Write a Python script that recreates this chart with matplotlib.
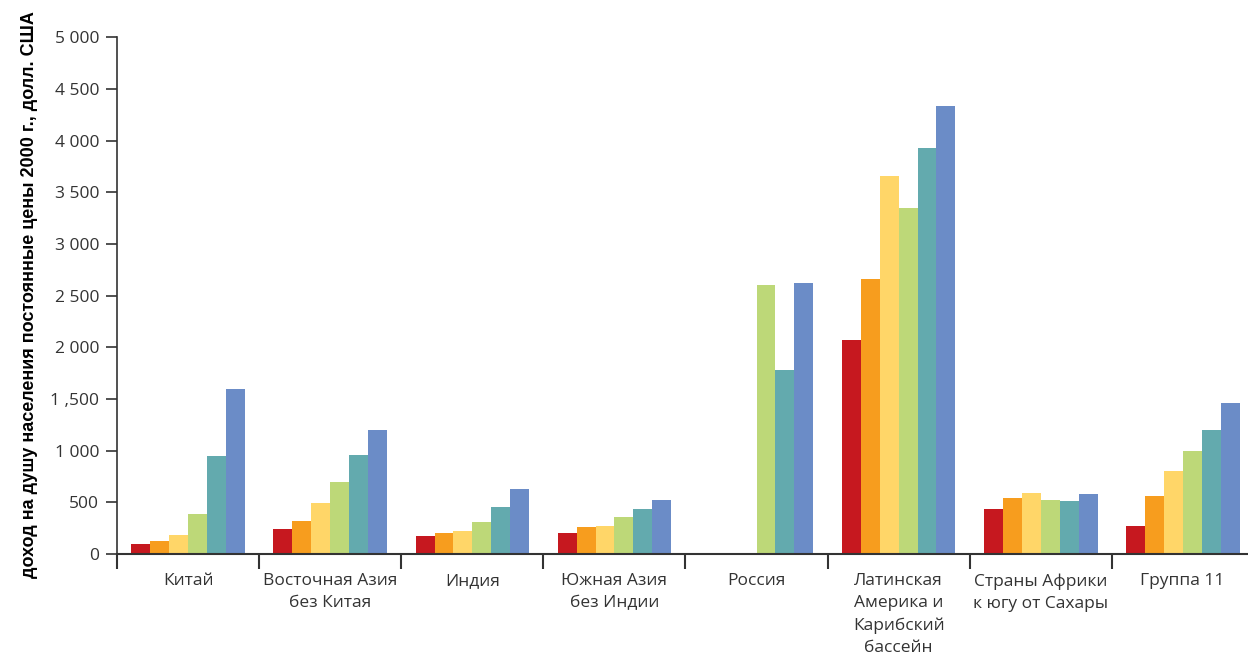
import numpy as np
import matplotlib
matplotlib.use("Agg")
import matplotlib.pyplot as plt
from matplotlib.ticker import FixedLocator

categories = ["Китай", "Восточная Азия\nбез Китая", "Индия", "Южная Азия\nбез Индии",
              "Россия", "Латинская\nАмерика и\nКарибский\nбассейн",
              "Страны Африки\nк югу от Сахары", "Группа 11"]

s1 = [97, 242, 171, 203, None, 2070, 435, 271]
s2 = [126, 319, 203, 261, None, 2660, 542, 561]
s3 = [184, 493, 222, 271, None, 3656, 590, 803]
s4 = [387, 696, 309, 358, 2602, 3346, 522, 996]
s5 = [948, 957, 455, 435, 1780, 3926, 513, 1199]
s6 = [1596, 1199, 629, 522, 2621, 4333, 580, 1460]
series = [s1, s2, s3, s4, s5, s6]
colors = ["#C6181F", "#F79D1E", "#FFD668", "#BDD878", "#63AAAE", "#6B8CC7"]

yticks = [0, 500, 1000, 1500, 2000, 2500, 3000, 3500, 4000, 4500, 5000]
yticklabels = ["0", "500", "1 000", "1 ,500", "2 000", "2 500", "3 000", "3 500",
               "4 000", "4 500", "5 000"]

fig = plt.figure(figsize=(12.48, 6.54), dpi=100)
ax = fig.add_axes([0.094, 0.153, 0.906, 0.790])

n = len(series)
w = 0.1335
x = np.arange(len(categories))
for k, (vals, c) in enumerate(zip(series, colors)):
    xs = [xi + (k - (n - 1) / 2) * w for xi, v in zip(x, vals) if v is not None]
    hs = [v for v in vals if v is not None]
    ax.bar(xs, hs, width=w, color=c, linewidth=0)

ax.set_xlim(-0.5, 7.46)
ax.set_ylim(0, 5000)
ax.set_yticks(yticks)
ax.set_yticklabels(yticklabels, fontsize=12.5, color="#333333", family="Open Sans")
ax.set_xticks(x)
ax.set_xticklabels(categories, fontsize=12.5, color="#333333", family="Open Sans",
                   linespacing=1.5, va="top")
ax.xaxis.set_minor_locator(FixedLocator(np.arange(-0.5, 7.6, 1.0)))
ax.tick_params(axis="x", which="major", length=0, pad=14)
ax.tick_params(axis="x", which="minor", length=11, width=1.5, color="#333333", direction="out")
ax.tick_params(axis="y", length=8, width=1.2, color="#333333", pad=5)

for s in ["top", "right"]:
    ax.spines[s].set_visible(False)
ax.spines["left"].set_color("#333333")
ax.spines["left"].set_linewidth(1.2)
ax.spines["bottom"].set_color("#333333")
ax.spines["bottom"].set_linewidth(1.5)

fig.text(0.024, 0.549, "доход на душу населения постоянные цены 2000 г., долл. США",
         rotation=90, ha="center", va="center", fontsize=13, fontweight="bold",
         family="Liberation Sans", color="black")

fig.savefig("out.png", dpi=100)
